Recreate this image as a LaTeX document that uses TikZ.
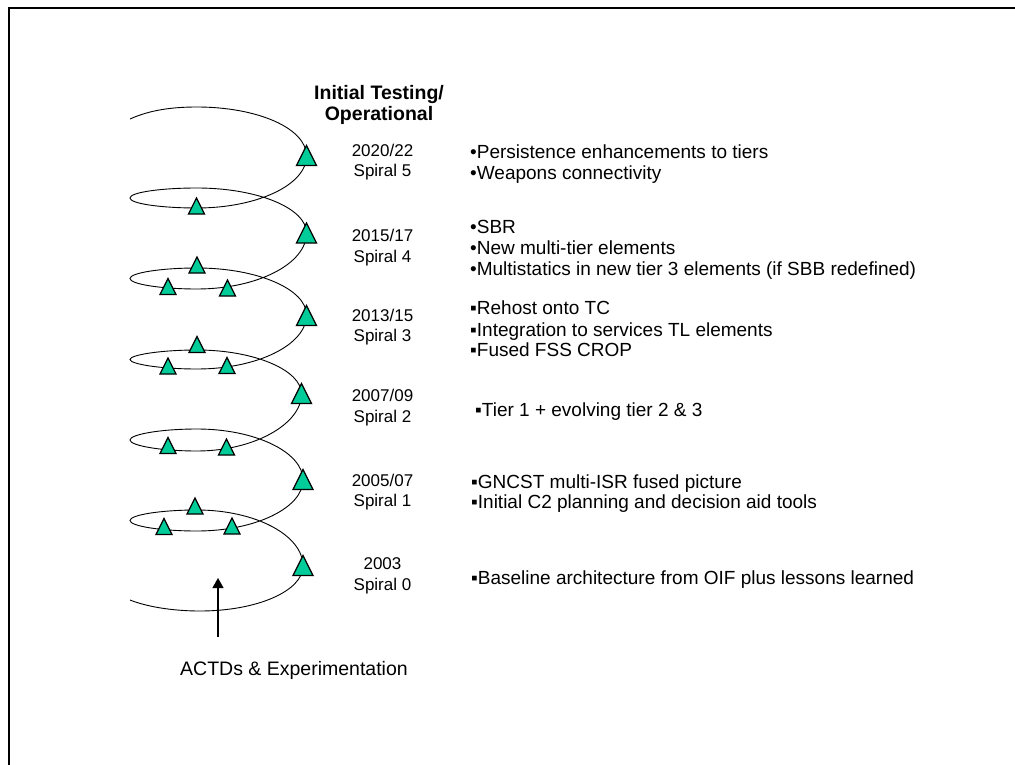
\documentclass[tikz,border=0pt]{standalone}
\usepackage{fontspec}
\setmainfont{Liberation Sans}
\usetikzlibrary{arrows.meta}
\definecolor{trigreen}{RGB}{0,204,153}
\tikzset{
  spiral/.style={line width=0.9pt, black},
  tri/.style={fill=trigreen, draw=black, line width=1.3pt, line join=miter},
  bigtri/.pic={\path[tri] (-10,10) -- (10,10) -- (0,-10) -- cycle;},
  smalltri/.pic={\path[tri] (-8,8) -- (8,8) -- (0,-8) -- cycle;},
  datelbl/.style={font=\fontsize{17}{20.5}\selectfont, inner sep=0pt, anchor=base},
  itemlbl/.style={font=\fontsize{19}{21}\selectfont, inner sep=0pt, anchor=base west},
  titlelbl/.style={font=\fontsize{19.5}{21}\selectfont\bfseries, inner sep=0pt, anchor=base},
  frameline/.style={line width=2pt, black},
  arrowline/.style={line width=1.3pt, -{Triangle[width=11pt,length=10pt]}}
}
\begin{document}
\begin{tikzpicture}[x=1pt,y=-1pt]
\useasboundingbox (0,0) rectangle (1015,765);
% frame
\draw[frameline] (9,765) -- (9,8) -- (1015,8);

% spiral
\draw[spiral] (130,119) .. controls (150,110) and (172,107) .. (197,107)
 .. controls (257,107) and (306.5,128) .. (306.5,156)
 .. controls (306.5,185) and (257,208) .. (197,208)
 .. controls (160,208) and (130,203.5) .. (130,198)
 .. controls (130,192.5) and (160,188) .. (197,188)
 .. controls (257,188) and (306.5,208) .. (306.5,233)
 .. controls (306.5,264) and (257,289) .. (197,289)
 .. controls (160,289) and (130,284) .. (130,278.5)
 .. controls (130,273) and (160,268) .. (197,268)
 .. controls (257,268) and (306.5,289) .. (306.5,315)
 .. controls (306.5,345) and (257,369) .. (197,369)
 .. controls (160,369) and (130,364) .. (130,359.5)
 .. controls (130,355) and (160,350) .. (197,350)
 .. controls (254,350) and (301.5,370) .. (301.5,394)
 .. controls (301.5,424) and (254,451) .. (197,451)
 .. controls (160,451) and (130,445.5) .. (130,440)
 .. controls (130,434.5) and (160,429) .. (197,429)
 .. controls (255,429) and (303,452) .. (303,480)
 .. controls (303,508) and (255,531) .. (197,531)
 .. controls (160,531) and (130,526) .. (130,520.5)
 .. controls (130,515) and (160,510) .. (197,510)
 .. controls (255,510) and (303,535) .. (303,566)
 .. controls (303,591) and (257,611) .. (200,611)
 .. controls (170,611) and (145,606) .. (130,600);

% large triangles
\pic at (306.5,155.5) {bigtri};
\pic at (306.5,233) {bigtri};
\pic at (306.5,315.5) {bigtri};
\pic at (301.5,393.5) {bigtri};
\pic at (303,479.5) {bigtri};
\pic at (303,565.5) {bigtri};
% small triangles
\pic at (196.5,206) {smalltri};
\pic at (197,265) {smalltri};
\pic at (168,286.5) {smalltri};
\pic at (227.5,288) {smalltri};
\pic at (197,344.5) {smalltri};
\pic at (168,366) {smalltri};
\pic at (227,365.5) {smalltri};
\pic at (168,445.5) {smalltri};
\pic at (226.5,447) {smalltri};
\pic at (195,506) {smalltri};
\pic at (164,526.5) {smalltri};
\pic at (232,526) {smalltri};

% title
\node[titlelbl] (ttl1) at (379,100) {Initial Testing/};
\node[titlelbl] (ttl2) at (379,120.5) {Operational};

% dates
\node[datelbl] (d5a) at (382.5,157) {2020/22};
\node[datelbl] (d5b) at (382.5,177) {Spiral 5};
\node[datelbl] (d4a) at (382.5,241.5) {2015/17};
\node[datelbl] (d4b) at (382.5,262) {Spiral 4};
\node[datelbl] (d3a) at (382.5,321.7) {2013/15};
\node[datelbl] (d3b) at (382.5,341.7) {Spiral 3};
\node[datelbl] (d2a) at (382.5,401.5) {2007/09};
\node[datelbl] (d2b) at (382.5,422) {Spiral 2};
\node[datelbl] (d1a) at (382.5,486) {2005/07};
\node[datelbl] (d1b) at (382.5,506.5) {Spiral 1};
\node[datelbl] (d0a) at (382.5,569) {2003};
\node[datelbl] (d0b) at (382.5,590) {Spiral 0};

% items
\node[itemlbl] (i5a) at (470,159) {•Persistence enhancements to tiers};
\node[itemlbl] (i5b) at (470,179) {•Weapons connectivity};
\node[itemlbl] (i4a) at (470,233) {•SBR};
\node[itemlbl] (i4b) at (470,254) {•New multi-tier elements};
\node[itemlbl] (i4c) at (470,275) {•Multistatics in new tier 3 elements (if SBB redefined)};
\node[itemlbl] (i3a) at (470,314) {▪Rehost onto TC};
\node[itemlbl] (i3b) at (470,336) {▪Integration to services TL elements};
\node[itemlbl] (i3c) at (470,356) {▪Fused FSS CROP};
\node[itemlbl] (i2a) at (475,416) {▪Tier 1 + evolving tier 2 \& 3};
\node[itemlbl] (i1a) at (471,488) {▪GNCST multi-ISR fused picture};
\node[itemlbl] (i1b) at (471,508.5) {▪Initial C2 planning and decision aid tools};
\node[itemlbl] (i0a) at (471,584) {▪Baseline architecture from OIF plus lessons learned};

% ACTDs arrow
\node[titlelbl, font=\fontsize{19.5}{21}\selectfont] (actd) at (294,675.7) {ACTDs \& Experimentation};
\coordinate (arrS) at (218,637);
\coordinate (arrE) at (218,578);
\draw[arrowline] (arrS) -- (arrE);
\end{tikzpicture}
\end{document}
